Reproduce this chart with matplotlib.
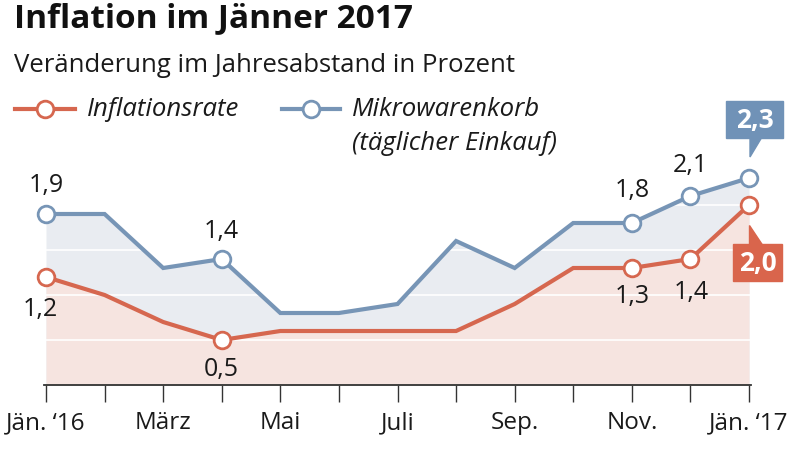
import matplotlib
matplotlib.use("Agg")
import matplotlib.pyplot as plt
from matplotlib.patches import Rectangle, Polygon

plt.rcParams['font.family'] = ['Open Sans', 'DejaVu Sans']

months = ["Jän. \u201816", "Feb", "März", "Apr", "Mai", "Juni", "Juli",
          "Aug", "Sep.", "Okt", "Nov.", "Dez", "Jän. \u201817"]
inflation = [1.2, 1.0, 0.7, 0.5, 0.6, 0.6, 0.6, 0.6, 0.9, 1.3, 1.3, 1.4, 2.0]
warenkorb = [1.9, 1.9, 1.3, 1.4, 0.8, 0.8, 0.9, 1.6, 1.3, 1.8, 1.8, 2.1, 2.3]
marked = [0, 3, 10, 11, 12]
tick_labels = ["Jän. \u201816", "", "März", "", "Mai", "", "Juli", "", "Sep.", "", "Nov.", "", "Jän. \u201817"]

red = "#d6674f"
blue = "#7795b6"
red_fill = "#f6e4e0"
blue_fill = "#e9ecf1"
red_box = "#d9654c"
blue_box = "#7092b7"
dark = "#1a1a1a"

fig = plt.figure(figsize=(8, 4.52), dpi=100)
ax = fig.add_axes([44 / 800, 66 / 452, 707 / 800, 234 / 452])
x = list(range(len(months)))

ax.fill_between(x, 0, warenkorb, color=blue_fill, lw=0, zorder=1)
ax.fill_between(x, 0, inflation, color=red_fill, lw=0, zorder=2)
for g in [0.5, 1.0, 1.5, 2.0]:
    ax.axhline(g, color="white", lw=1.2, zorder=3)

ax.plot(x, warenkorb, color=blue, lw=3, zorder=4, solid_joinstyle="miter")
ax.plot(x, inflation, color=red, lw=3, zorder=4, solid_joinstyle="miter")
ax.plot([x[i] for i in marked], [warenkorb[i] for i in marked], "o", ms=12,
        mfc="white", mec=blue, mew=2, zorder=5, clip_on=False)
ax.plot([x[i] for i in marked], [inflation[i] for i in marked], "o", ms=12,
        mfc="white", mec=red, mew=2, zorder=5, clip_on=False)

ax.set_xlim(-2 / 58.6, 12 + 2 / 58.6)
ax.set_ylim(0, 2.6)
for s in ["top", "right", "left"]:
    ax.spines[s].set_visible(False)
ax.spines["bottom"].set_color("#333333")
ax.spines["bottom"].set_linewidth(1.3)
ax.spines["bottom"].set_zorder(6)
ax.set_yticks([])
ax.set_xticks(x)
ax.set_xticklabels(tick_labels, fontsize=17.5, color=dark)
ax.tick_params(axis="x", length=12, width=1, color="#333333", pad=6)

def fmt(v):
    return f"{v:.1f}".replace(".", ",")

# value labels (offset in pixels)
labels = [
    (0, warenkorb, 0, 29), (3, warenkorb, 0, 28),
    (10, warenkorb, 0, 33), (11, warenkorb, 0, 31),
    (0, inflation, -6, -32), (3, inflation, 0, -29),
    (10, inflation, 0, -28), (11, inflation, 1, -33),
]
for i, series, dx, dy in labels:
    ax.annotate(fmt(series[i]), (x[i], series[i]), xytext=(dx, dy),
                textcoords="offset pixels", ha="center", va="center",
                fontsize=18, color=dark, zorder=7)

# highlighted last values
def callout(xv, yv, rect, tri, color, text):
    base = ax.transData.transform((xv, yv))
    rx, ry, rw, rh = rect
    fig.patches.append(Rectangle((base[0] + rx, base[1] + ry), rw, rh,
                                 transform=None, color=color, zorder=8))
    fig.patches.append(Polygon([(base[0] + a, base[1] + b) for a, b in tri],
                               closed=True, transform=None, color=color, zorder=8))
    fig.text((base[0] + rx + rw / 2) / 800, (base[1] + ry + rh / 2) / 452, text,
             ha="center", va="center", fontsize=19, fontweight="bold",
             color="white", zorder=9)

callout(12, warenkorb[-1], (-23, 40, 57, 37), [(1, 41), (13, 41), (1, 21)],
        blue_box, fmt(warenkorb[-1]))
callout(12, inflation[-1], (-16, -76, 49, 37), [(0, -20), (0, -41), (14, -41)],
        red_box, fmt(inflation[-1]))

# titles
fig.text(14 / 800, 1 - 19 / 452, "Inflation im Jänner 2017", fontsize=24,
         fontweight="bold", color="#111111", va="center", ha="left")
fig.text(14 / 800, 1 - 66 / 452, "Veränderung im Jahresabstand in Prozent",
         fontsize=18.5, color=dark, va="center", ha="left")

# legend
def legend_item(x0, x1, y, color, text, tx):
    yy = 1 - y / 452
    fig.lines.append(plt.Line2D([x0 / 800, x1 / 800], [yy, yy], color=color, lw=3,
                                transform=fig.transFigure))
    fig.lines.append(plt.Line2D([(x0 + x1) / 1600], [yy], marker="o", ms=12,
                                mfc="white", mec=color, mew=2,
                                transform=fig.transFigure))
    fig.text(tx / 800, yy, text, fontsize=18.5, style="italic", color=dark,
             va="center", ha="left")

legend_item(15, 75, 110, red, "Inflationsrate", 87)
legend_item(282, 340, 110, blue, "Mikrowarenkorb", 352)
fig.text(352 / 800, 1 - 143 / 452, "(täglicher Einkauf)", fontsize=18.5,
         style="italic", color=dark, va="center", ha="left")

fig.savefig("out.png", dpi=100)
